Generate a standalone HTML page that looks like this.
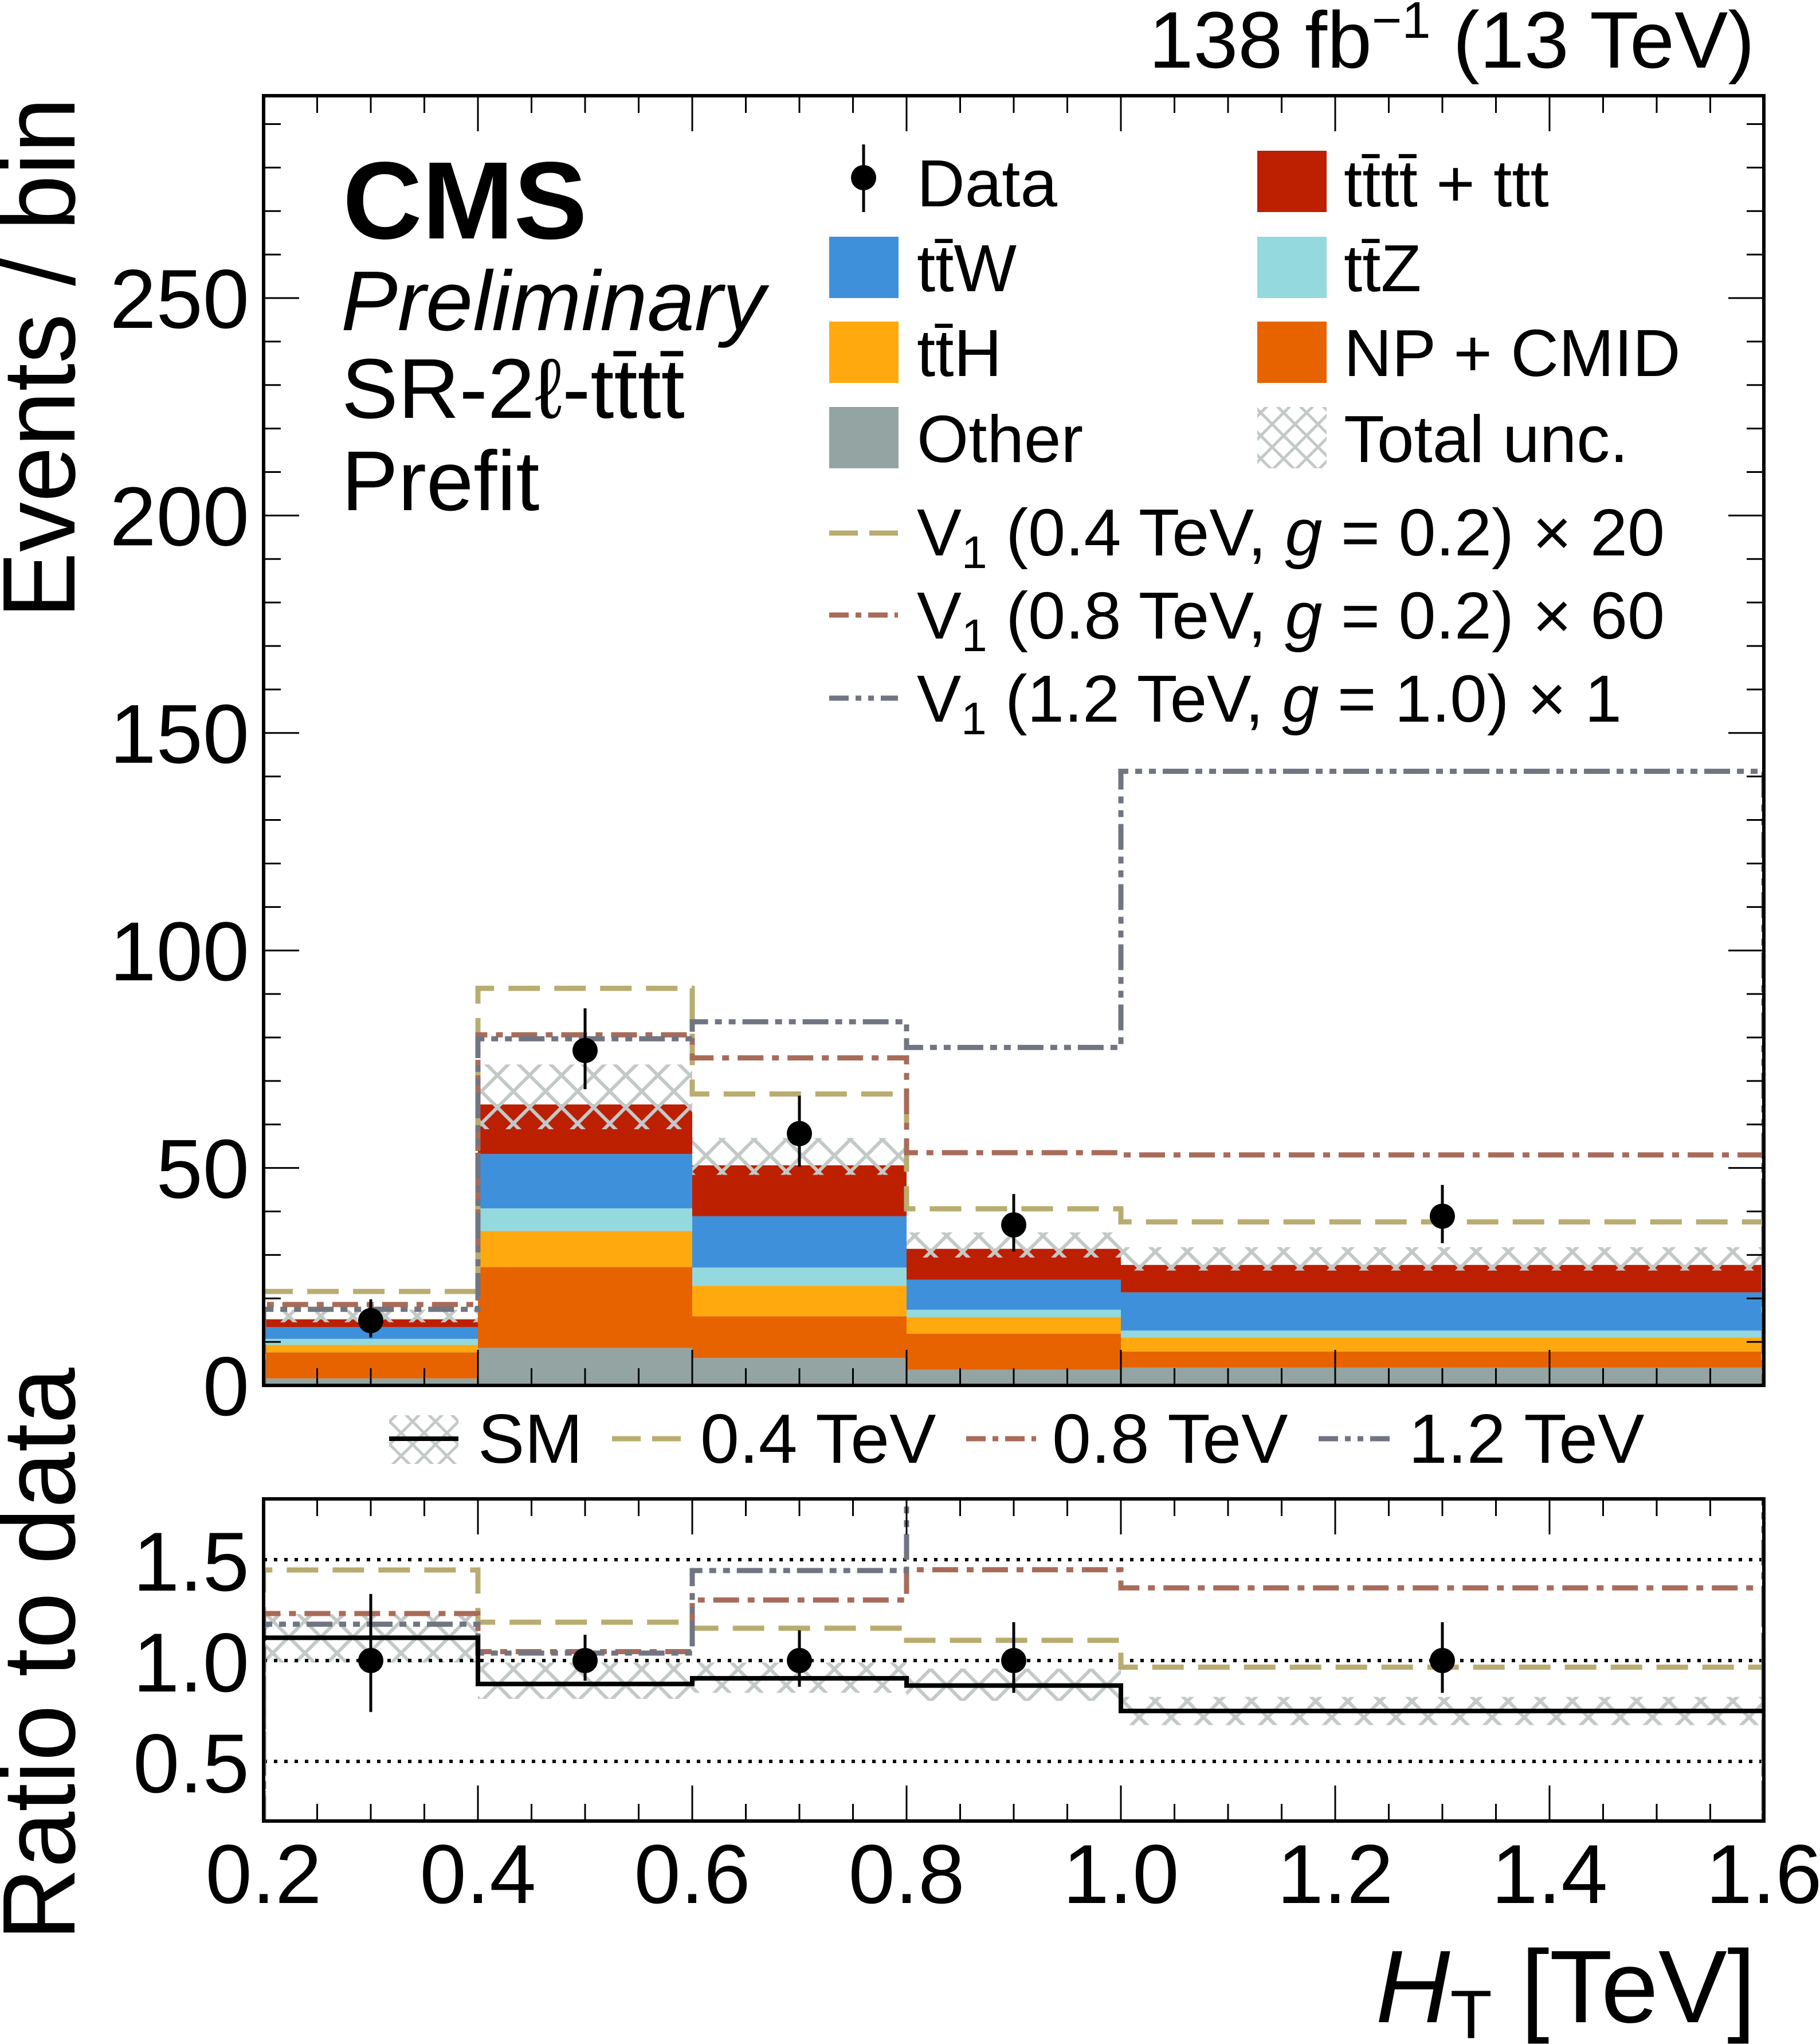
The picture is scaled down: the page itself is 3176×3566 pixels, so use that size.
<!DOCTYPE html>
<html><head><meta charset="utf-8"><style>
html,body{margin:0;padding:0;background:#fff;}
svg{display:block;font-family:"Liberation Sans",sans-serif;}
</style></head><body>
<svg id="chart" xmlns="http://www.w3.org/2000/svg" width="3176" height="3566" viewBox="0 0 3176 3566">
<defs>
<pattern id="hatch" patternUnits="userSpaceOnUse" width="56" height="56">
<path d="M0,0 L56,56 M56,0 L0,56" stroke="#c3c9c6" stroke-width="6" fill="none"/>
</pattern>
<clipPath id="mainClip"><rect x="460" y="167" width="2618" height="2250"/></clipPath>
<clipPath id="ratioClip"><rect x="460" y="2615" width="2618" height="562"/></clipPath>
</defs>
<g id="layer"></g>
</svg>
<script>
// ---- data ----
const binEdges = [0.2, 0.4, 0.6, 0.8, 1.0, 1.6];
const dataX = [0.3, 0.5, 0.7, 0.9, 1.3];
const otherVals = [1.6, 8.6, 6.3, 3.6, 4.1];
const npVals = [6.0, 18.6, 9.6, 8.3, 3.7];
const tthVals = [1.7, 8.3, 7.0, 3.8, 3.2];
const ttzVals = [1.4, 5.2, 4.2, 1.7, 1.6];
const ttwVals = [2.7, 12.5, 11.8, 6.9, 8.8];
const ttttVals = [1.8, 11.4, 11.7, 7.1, 6.3];
const uncUp = [17.4, 73.8, 56.9, 35.2, 31.8];
const uncDown = [14.5, 58.9, 48.4, 29.4, 26.4];
const dataVals = [14.9, 77.0, 57.9, 36.9, 38.9];
const dataHi = [19.8, 86.7, 66.6, 44.0, 46.1];
const dataLo = [11.0, 68.1, 50.3, 30.8, 32.7];
const v04Vals = [21.6, 91.3, 67.0, 40.6, 37.6];
const v08Vals = [18.6, 80.6, 75.3, 53.5, 53.0];
const v12Vals = [17.5, 79.7, 83.6, 77.7, 141.2];
const smRatio = [1.113, 0.884, 0.912, 0.876, 0.75];
const smBandHi = [1.23, 0.99, 0.99, 0.96, 0.82];
const smBandLo = [0.99, 0.81, 0.84, 0.80, 0.68];
const v04Ratio = [1.449, 1.19, 1.16, 1.10, 0.967];
const v08Ratio = [1.233, 1.044, 1.30, 1.45, 1.36];
const v12Ratio = [1.18, 1.037, 1.446, 2.2, 3.6];
const dataRatio = [1, 1, 1, 1, 1];
const dataRatioHi = [1.33, 1.128, 1.15, 1.19, 1.19];
const dataRatioLo = [0.745, 0.90, 0.87, 0.84, 0.84];
const yTicks = [0, 50, 100, 150, 200, 250];
const yTickLabels = ["0", "50", "100", "150", "200", "250"];
const rTicks = [0.5, 1.0, 1.5];
const rTickLabels = ["0.5", "1.0", "1.5"];
const xTicks = [0.2, 0.4, 0.6, 0.8, 1.0, 1.2, 1.4, 1.6];
const xTickLabels = ["0.2", "0.4", "0.6", "0.8", "1.0", "1.2", "1.4", "1.6"];

// ---- scales ----
const X = v => 460 + (v - 0.2) / 1.4 * 2618;
const Y = v => 2417 - v * 7.588;
const R = v => 2897 - (v - 1) * 352;
const NS = "http://www.w3.org/2000/svg";
const layer = document.getElementById("layer");
function mk(tag, attrs, parent) {
  const e = document.createElementNS(NS, tag);
  for (const k in attrs) e.setAttribute(k, attrs[k]);
  (parent || layer).appendChild(e);
  return e;
}
const cols = {other:"#94a4a2", np:"#e76300", tth:"#ffa90e", ttz:"#94d9de", ttw:"#3f90da", tttt:"#bd1f01"};
const sigCol = {v04:"#b9ac70", v08:"#a96b59", v12:"#717581"};
const sigDash = {v04:"55 25", v08:"45 15 12 15", v12:"45 12 12 12 12 12"};

// ---- main panel ----
const mainG = mk("g", {"clip-path":"url(#mainClip)"});


const stack = [["other", otherVals], ["np", npVals], ["tth", tthVals], ["ttz", ttzVals], ["ttw", ttwVals], ["tttt", ttttVals]];
const base = [0, 0, 0, 0, 0];
stack.forEach(([name, vals]) => {
  vals.forEach((v, i) => {
    const x0 = X(binEdges[i]), x1 = X(binEdges[i + 1]);
    const r = mk("rect", {x:x0, y:Y(base[i] + v), width:x1 - x0, height:Y(base[i]) - Y(base[i] + v), fill:cols[name]}, mainG);
    
    
    base[i] += v;
  });
});
uncUp.forEach((u, i) => {
  const x0 = X(binEdges[i]), x1 = X(binEdges[i + 1]);
  const r = mk("rect", {x:x0, y:Y(u), width:x1 - x0, height:Y(uncDown[i]) - Y(u), fill:"url(#hatch)"}, mainG);
  
  
});
function stepPath(vals, f, baseVal) {
  let d = "M" + X(binEdges[0]) + "," + f(baseVal);
  vals.forEach((v, i) => {
    d += " L" + X(binEdges[i]) + "," + f(v) + " L" + X(binEdges[i + 1]) + "," + f(v);
  });
  d += " L" + X(binEdges[binEdges.length - 1]) + "," + f(baseVal);
  return d;
}
[["v04", v04Vals], ["v08", v08Vals], ["v12", v12Vals]].forEach(([n, vals]) => {
  const p = mk("path", {d:stepPath(vals, Y, 0), fill:"none", stroke:sigCol[n], "stroke-width":9, "stroke-dasharray":sigDash[n]}, mainG);
  
  
});
dataVals.forEach((v, i) => {
  const l = mk("line", {x1:X(dataX[i]), x2:X(dataX[i]), y1:Y(dataHi[i]), y2:Y(dataLo[i]), stroke:"#000", "stroke-width":5});
  
  
  const c = mk("circle", {cx:X(dataX[i]), cy:Y(v), r:22, fill:"#000"});
  
  
});

// ---- ratio panel ----
const ratioG = mk("g", {"clip-path":"url(#ratioClip)"});


smBandHi.forEach((h, i) => {
  const x0 = X(binEdges[i]), x1 = X(binEdges[i + 1]);
  const r = mk("rect", {x:x0, y:R(h), width:x1 - x0, height:R(smBandLo[i]) - R(h), fill:"url(#hatch)"}, ratioG);
  
  
});
rTicks.forEach(t => {
  const l = mk("line", {x1:460, x2:3078, y1:R(t), y2:R(t), stroke:"#000", "stroke-width":6, "stroke-dasharray":"6 12"}, ratioG);
  
  
});
[["v04", v04Ratio], ["v08", v08Ratio], ["v12", v12Ratio]].forEach(([n, vals]) => {
  const p = mk("path", {d:stepPath(vals, R, 0.2), fill:"none", stroke:sigCol[n], "stroke-width":9, "stroke-dasharray":sigDash[n]}, ratioG);
  
  
});
{
  let d = "";
  smRatio.forEach((v, i) => { d += (i ? " L" : "M") + X(binEdges[i]) + "," + R(v) + " L" + X(binEdges[i + 1]) + "," + R(v); });
  const p = mk("path", {d:d, fill:"none", stroke:"#000", "stroke-width":8}, ratioG);
  
  
}
dataRatio.forEach((v, i) => {
  const l = mk("line", {x1:X(dataX[i]), x2:X(dataX[i]), y1:R(dataRatioHi[i]), y2:R(dataRatioLo[i]), stroke:"#000", "stroke-width":5}, ratioG);
  
  
  const c = mk("circle", {cx:X(dataX[i]), cy:R(v), r:22, fill:"#000"}, ratioG);
  
  
});

// ---- frames & ticks ----
function ticksX(top, bot) {
  for (let k = 0; k <= 28; k++) {
    const v = 0.2 + k * 0.05, x = X(v), len = (k % 4 === 0) ? 62 : 30;
    mk("line", {x1:x, x2:x, y1:bot, y2:bot - len, stroke:"#000", "stroke-width":3});
    mk("line", {x1:x, x2:x, y1:top, y2:top + len, stroke:"#000", "stroke-width":3});
  }
}
ticksX(167, 2417);
ticksX(2615, 3177);
for (let v = 0; v <= 290; v += 10) {
  const y = Y(v), len = (v % 50 === 0) ? 62 : 30;
  mk("line", {x1:460, x2:460 + len, y1:y, y2:y, stroke:"#000", "stroke-width":3});
  mk("line", {x1:3078, x2:3078 - len, y1:y, y2:y, stroke:"#000", "stroke-width":3});
}
const f1 = mk("rect", {x:460, y:167, width:2618, height:2250, fill:"none", stroke:"#000", "stroke-width":6});


const f2 = mk("rect", {x:460, y:2615, width:2618, height:562, fill:"none", stroke:"#000", "stroke-width":6});



yTicks.forEach((t, i) => {
  const e = mk("text", {x:435, y:Y(t) + 52, "font-size":146, "text-anchor":"end"});
  e.textContent = yTickLabels[i];
  
  
});
rTicks.forEach((t, i) => {
  const e = mk("text", {x:435, y:R(t) + 54, "font-size":146, "text-anchor":"end"});
  e.textContent = rTickLabels[i];
  
  
});
xTicks.forEach((t, i) => {
  const e = mk("text", {x:X(t), y:3320, "font-size":146, "text-anchor":"middle"});
  e.textContent = xTickLabels[i];
  
  
});
</script>
<svg style="position:absolute;left:0;top:0" width="3176" height="3566" viewBox="0 0 3176 3566" xmlns="http://www.w3.org/2000/svg" font-family="Liberation Sans, sans-serif">
<defs>
<pattern id="hatch2" patternUnits="userSpaceOnUse" width="40" height="40">
<path d="M0,0 L40,40 M40,0 L0,40" stroke="#c3c9c6" stroke-width="5" fill="none"/>
</pattern>
</defs>
<text x="3062" y="118" font-size="140" text-anchor="end">138 fb<tspan dy="-52" font-size="90">−1</tspan><tspan dy="52"> (13 TeV)</tspan></text>
<text transform="translate(130,1079) rotate(-90)" font-size="180" textLength="909" lengthAdjust="spacingAndGlyphs">Events / bin</text>
<text transform="translate(130,3386) rotate(-90)" font-size="180" textLength="1000" lengthAdjust="spacingAndGlyphs">Ratio to data</text>
<text x="3064" y="3528" font-size="180" text-anchor="end"><tspan font-style="italic">H</tspan><tspan font-size="120" dy="28">T</tspan><tspan dy="-28">  [TeV]</tspan></text>
<text x="598" y="416" font-size="192" font-weight="bold">CMS</text>
<text x="595" y="576" font-size="148" font-style="italic">Preliminary</text>
<text x="596" y="729" font-size="148">SR-2ℓ-tt̄tt̄</text>
<text x="596" y="890" font-size="148">Prefit</text>
<g font-size="116">
<line x1="1507" x2="1507" y1="252" y2="370" stroke="#000" stroke-width="5"/>
<circle cx="1507" cy="310" r="22" fill="#000"/>
<text x="1600" y="360">Data</text>
<rect x="2194" y="263" width="121" height="107" fill="#bd1f01"/>
<text x="2345" y="360">tt̄tt̄ + ttt</text>
<rect x="1447" y="413" width="121" height="107" fill="#3f90da"/>
<text x="1600" y="508">tt̄W</text>
<rect x="2194" y="413" width="121" height="107" fill="#94d9de"/>
<text x="2345" y="508">tt̄Z</text>
<rect x="1447" y="561" width="121" height="107" fill="#ffa90e"/>
<text x="1600" y="656">tt̄H</text>
<rect x="2194" y="561" width="121" height="107" fill="#e76300"/>
<text x="2345" y="656">NP + CMID</text>
<rect x="1447" y="710" width="121" height="107" fill="#94a4a2"/>
<text x="1600" y="806">Other</text>
<rect x="2194" y="710" width="121" height="107" fill="url(#hatch2)"/>
<text x="2345" y="806">Total unc.</text>
<line x1="1447" x2="1567" y1="930" y2="930" stroke="#b9ac70" stroke-width="9" stroke-dasharray="50 20"/>
<text x="1600" y="969" textLength="1305" lengthAdjust="spacingAndGlyphs">V<tspan font-size="80" dy="22">1</tspan><tspan dy="-22"> (0.4 TeV, </tspan><tspan font-style="italic">g</tspan> = 0.2) × 20</text>
<line x1="1447" x2="1567" y1="1073" y2="1073" stroke="#a96b59" stroke-width="9" stroke-dasharray="34 12 10 12"/>
<text x="1600" y="1114" textLength="1305" lengthAdjust="spacingAndGlyphs">V<tspan font-size="80" dy="22">1</tspan><tspan dy="-22"> (0.8 TeV, </tspan><tspan font-style="italic">g</tspan> = 0.2) × 60</text>
<line x1="1447" x2="1567" y1="1218" y2="1218" stroke="#717581" stroke-width="9" stroke-dasharray="34 12 10 12 10 12"/>
<text x="1600" y="1259" textLength="1230" lengthAdjust="spacingAndGlyphs">V<tspan font-size="80" dy="22">1</tspan><tspan dy="-22"> (1.2 TeV, </tspan><tspan font-style="italic">g</tspan> = 1.0) × 1</text>
</g>
<g font-size="122">
<rect x="679" y="2469" width="121" height="85" fill="url(#hatch2)"/>
<line x1="679" x2="800" y1="2510" y2="2510" stroke="#000" stroke-width="8"/>
<text x="834" y="2552">SM</text>
<line x1="1068" x2="1193" y1="2510" y2="2510" stroke="#b9ac70" stroke-width="9" stroke-dasharray="50 20"/>
<text x="1222" y="2552">0.4 TeV</text>
<line x1="1686" x2="1808" y1="2510" y2="2510" stroke="#a96b59" stroke-width="9" stroke-dasharray="34 12 10 12"/>
<text x="1836" y="2552">0.8 TeV</text>
<line x1="2301" x2="2426" y1="2510" y2="2510" stroke="#717581" stroke-width="9" stroke-dasharray="34 12 10 12 10 12"/>
<text x="2458" y="2552">1.2 TeV</text>
</g>
</svg>
</body></html>
